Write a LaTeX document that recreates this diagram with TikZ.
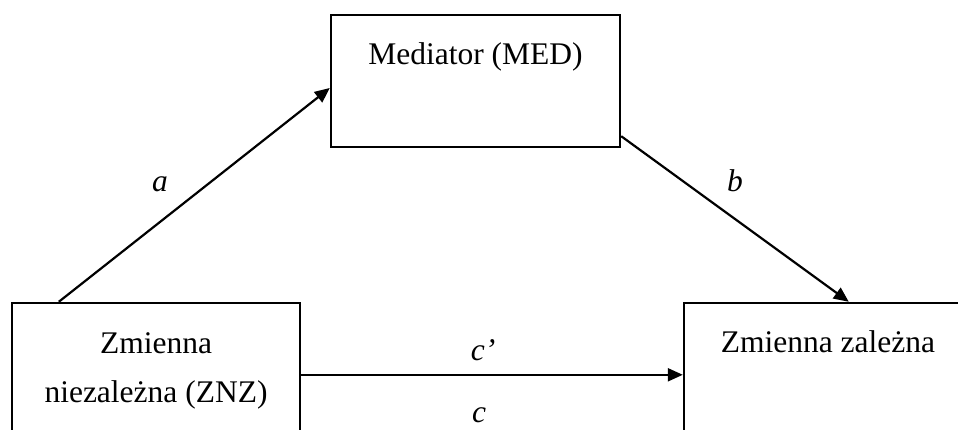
\documentclass[tikz,border=0pt]{standalone}
\usepackage{fontspec}
\setmainfont{Liberation Serif}
\usetikzlibrary{arrows.meta,calc}
\begin{document}
\begin{tikzpicture}[x=1pt,y=-1pt,
  box/.style={draw,line width=2.4pt,rectangle,inner sep=0pt},
  arr/.style={line width=2.2pt,-{Triangle[length=15pt,width=13pt]}},
  txt/.style={font=\fontsize{31.5}{49}\selectfont,inner sep=0pt,align=center},
  lbl/.style={font=\fontsize{31.5}{38}\selectfont\itshape,inner sep=0pt}]
\clip (0,0) rectangle (958,430);
\fill[white] (0,0) rectangle (958,430);
% boxes
\node[box,minimum width=289pt,minimum height=132pt] (med) at (475.5,81) {};
\node[box,minimum width=288pt,minimum height=142pt] (znz) at (156,374) {};
\node[box,minimum width=288pt,minimum height=142pt] (dep) at (828,374) {};
% box texts (base anchor sits on the last line)
\node[txt,anchor=base] (medtxt) at (475.5,65) {Mediator (MED)};
\node[txt,anchor=base] (znztxt) at (156,402) {Zmienna\\niezależna (ZNZ)};
\node[txt,anchor=base] (deptxt) at (828,352) {Zmienna zależna};
% paths
\draw[arr] ($(znz.north west)+(48,0)$) -- ($(med.west)+(0,7)$);
\draw[arr] ($(med.south east)+(0,-12)$) -- ($(dep.north west)+(166,0)$);
\draw[arr] ($(znz.north east)+(0,73)$) -- ($(dep.north west)+(0,73)$);
% path labels
\node[lbl,anchor=base] (la) at (160,192) {a};
\node[lbl,anchor=base] (lb) at (735,192) {b};
\node[lbl,anchor=base] (lcp) at (483,360) {c’};
\node[lbl,anchor=base] (lc) at (479,422) {c};
\end{tikzpicture}
\end{document}
